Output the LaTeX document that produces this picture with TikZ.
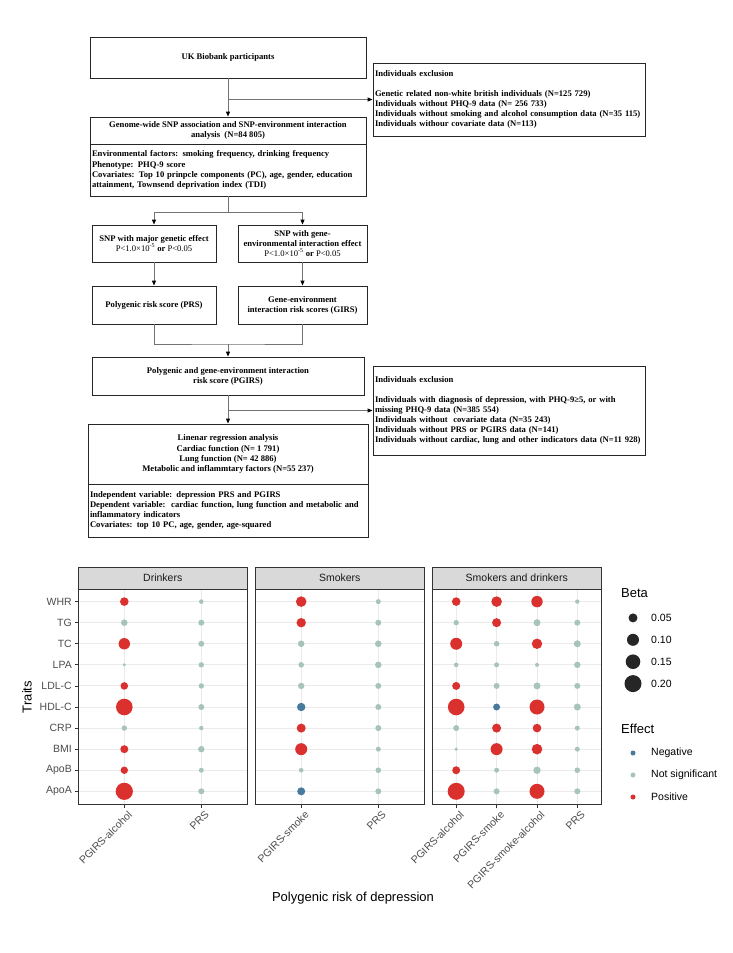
\documentclass[tikz,border=0pt]{standalone}
\usepackage{fontspec}
\setmainfont{Liberation Serif}
\setsansfont{Liberation Sans}
\usetikzlibrary{positioning,arrows.meta}
\definecolor{effpos}{RGB}{218,48,46}
\definecolor{effns}{RGB}{166,196,184}
\definecolor{effneg}{RGB}{72,122,158}
\definecolor{gridc}{RGB}{235,235,235}
\definecolor{stripc}{RGB}{217,217,217}
\definecolor{axc}{RGB}{77,77,77}
\tikzset{
  fbox/.style={draw=black!85,line width=0.9pt,fill=white,inner sep=2pt,align=center,font=\fontsize{8.6}{10.1}\selectfont\bfseries},
  lbox/.style={fbox,align=left,inner xsep=2pt},
  conn/.style={draw=black!55,line width=0.9pt},
  arr/.style={conn,-{Triangle[length=5pt,width=4pt,color=black]}},
  panel/.style={draw=black!80,line width=0.9pt},
  grid/.style={draw=gridc,line width=1pt},
  tickc/.style={draw=black!80,line width=0.8pt},
  striplab/.style={font=\fontsize{10.5}{12}\selectfont\sffamily,text=black!90},
  ylab/.style={anchor=east,inner sep=0pt,font=\fontsize{10.5}{12}\selectfont\sffamily,text=axc},
  xlab/.style={anchor=north east,rotate=45,inner sep=0pt,font=\fontsize{10.5}{12}\selectfont\sffamily,text=axc},
  axtitle/.style={font=\fontsize{13}{15}\selectfont\sffamily},
  legtitle/.style={anchor=west,inner sep=0pt,font=\fontsize{13}{15}\selectfont\sffamily},
  leglab/.style={anchor=west,inner sep=0pt,font=\fontsize{10.5}{12}\selectfont\sffamily}
}
% one column of dots: row/radius/colour
\newcommand\dotcol[2]{\foreach \r/\rad/\col in {#2} {\fill[\col] (#1,{601.6+(\r-1)*21.08}) circle (\rad);}}
\newcommand\pval{{\mdseries P<1.0×10\textsuperscript{-5}} or {\mdseries P<0.05}}

\begin{document}
\begin{tikzpicture}[x=1pt,y=-1pt]
  \fill[white] (0,0) rectangle (733,953);
  \useasboundingbox (0,0) rectangle (733,953);

  % flow chart
  \node[fbox,minimum width=276pt,minimum height=41pt] (uk) at (228,57.5) {UK Biobank participants};
  \node[lbox,text width=268pt,minimum height=73pt] (ex1) at (509,99.5) {Individuals exclusion\\[10.1pt]
    Genetic related non-white british individuals (N=125 729)\\
    Individuals without PHQ-9 data (N= 256 733)\\
    Individuals without smoking and alcohol consumption data (N=35 115)\\
    Individuals withour covariate data (N=113)};
  \node[fbox,minimum width=276pt,minimum height=27pt] (gwhead) at (228,130.5) {Genome-wide SNP association and SNP-environment interaction\\ analysis~~(N=84 805)};
  \node[lbox,text width=272pt,minimum height=52pt] (gwbody) at (228,170) {Environmental factors: smoking frequency, drinking frequency\\
    Phenotype: PHQ-9 score\\
    Covariates: Top 10 prinpcle components (PC), age, gender, education\\
    attainment, Townsend deprivation index (TDI)};
  \node[fbox,minimum width=124pt,minimum height=37pt] (snp1) at (154,243.5) {SNP with major genetic effect\\ \pval};
  \node[fbox,minimum width=129pt,minimum height=37pt] (snp2) at (302.5,243.5) {SNP with gene-\\ environmental interaction effect\\ \pval};
  \node[fbox,minimum width=124pt,minimum height=38pt] (prs) at (154,305) {Polygenic risk score (PRS)};
  \node[fbox,minimum width=129pt,minimum height=38pt] (girs) at (302.5,305) {Gene-environment\\ interaction risk scores (GIRS)};
  \node[fbox,minimum width=272pt,minimum height=38pt] (pgirs) at (228,376) {Polygenic and gene-environment interaction\\ risk score (PGIRS)};
  \node[lbox,text width=268pt,minimum height=89pt] (ex2) at (509,410.5) {Individuals exclusion\\[10.1pt]
    Individuals with diagnosis of depression, with PHQ-9≥5, or with\\
    missing PHQ-9 data (N=385 554)\\
    Individuals without~~covariate data (N=35 243)\\
    Individuals without PRS or PGIRS data (N=141)\\
    Individuals without cardiac, lung and other indicators data (N=11 928)};
  \node[fbox,minimum width=280pt,minimum height=60pt] (linhead) at (228,454) {Linenar regression analysis\\
    Cardiac function (N= 1 791)\\
    Lung function (N= 42 886)\\
    Metabolic and inflammtary factors (N=55 237)};
  \node[lbox,text width=276pt,minimum height=53pt] (linbody) at (228,510.5) {Independent variable: depression PRS and PGIRS\\
    Dependent variable:~~cardiac function, lung function and metabolic and\\
    inflammatory indicators\\
    Covariates: top 10 PC, age, gender, age-squared};

  \coordinate (split) at (228,212);
  \coordinate (merge) at (228,344);
  \draw[arr] (uk) -- (gwhead);
  \draw[arr] (uk.south |- ex1.west) -- (ex1.west);
  \draw[arr] (gwbody.south) -- (split) -| (snp1.north);
  \draw[arr] (split) -| (snp2.north);
  \draw[arr] (snp1) -- (prs); \draw[arr] (snp2) -- (girs);
  \draw[conn] (prs.south) |- (merge) -| (girs.south);
  \draw[arr] (merge) -- (pgirs.north);
  \draw[arr] (pgirs) -- (linhead);
  \draw[arr] (pgirs.south |- ex2.west) -- (ex2.west);

  % dot plot
  \foreach \pl/\pr/\nm/\lab in {78/247.5/drink/Drinkers,255/424.5/smoke/Smokers,432/601.5/both/Smokers and drinkers} {
    \fill[stripc] (\pl,567) rectangle (\pr,589);
    \draw[panel] (\pl,567) rectangle (\pr,589);
    \node[striplab] (strip-\nm) at ({(\pl+\pr)/2},578) {\lab};
    \foreach \r in {1,...,10} \draw[grid] (\pl,{601.6+(\r-1)*21.08}) -- (\pr,{601.6+(\r-1)*21.08});
  }
  \foreach \cx in {124.3,201.3,301.2,378.3,456.2,496.6,537,577.3} \draw[grid] (\cx,589) -- (\cx,804);

  \dotcol{124.3}{1/4.3/effpos,2/3.3/effns,3/5.7/effpos,4/1.7/effns,5/3.8/effpos,6/8.3/effpos,7/2.7/effns,8/4/effpos,9/3.7/effpos,10/8.6/effpos}
  \dotcol{201.3}{1/2.3/effns,2/3/effns,3/3/effns,4/2.7/effns,5/2.7/effns,6/3/effns,7/2.2/effns,8/3.2/effns,9/2.5/effns,10/3/effns}
  \dotcol{301.2}{1/5.3/effpos,2/4.7/effpos,3/3.3/effns,4/2.8/effns,5/3.2/effns,6/4.2/effneg,7/4.5/effpos,8/6/effpos,9/2.3/effns,10/4/effneg}
  \dotcol{378.3}{1/2.5/effns,2/3/effns,3/3.3/effns,4/3.3/effns,5/3/effns,6/3/effns,7/3/effns,8/2.5/effns,9/2.8/effns,10/3/effns}
  \dotcol{456.2}{1/4.3/effpos,2/2.7/effns,3/6/effpos,4/2.3/effns,5/4/effpos,6/8.3/effpos,7/3/effns,8/1.8/effns,9/4/effpos,10/8.5/effpos}
  \dotcol{496.6}{1/5.3/effpos,2/4.5/effpos,3/2.8/effns,4/2.5/effns,5/3/effns,6/3.5/effneg,7/4.5/effpos,8/6/effpos,9/2.5/effns,10/3/effns}
  \dotcol{537}{1/5.7/effpos,2/3.5/effns,3/5.2/effpos,4/2/effns,5/3.5/effns,6/7.5/effpos,7/4.3/effpos,8/5.3/effpos,9/3.7/effns,10/7.5/effpos}
  \dotcol{577.3}{1/2.2/effns,2/3/effns,3/3.5/effns,4/3.2/effns,5/3/effns,6/3.5/effns,7/2.5/effns,8/2.5/effns,9/2.8/effns,10/3/effns}

  \foreach \pl/\pr in {78/247.5,255/424.5,432/601.5} \draw[panel] (\pl,589) rectangle (\pr,804);

  \foreach \lab [count=\r] in {WHR,TG,TC,LPA,LDL-C,HDL-C,CRP,BMI,ApoB,ApoA} {
    \draw[tickc] (74.5,{601.6+(\r-1)*21.08}) -- (78,{601.6+(\r-1)*21.08});
    \node[ylab] (y-\r) at (72,{601.6+(\r-1)*21.08}) {\lab};
  }
  \foreach \cx/\lab [count=\i] in {124.3/PGIRS-alcohol,201.3/PRS,301.2/PGIRS-smoke,378.3/PRS,456.2/PGIRS-alcohol,496.6/PGIRS-smoke,537/PGIRS-smoke-alcohol,577.3/PRS} {
    \draw[tickc] (\cx,804) -- (\cx,807.5);
    \node[xlab] (x-\i) at (\cx+3,810) {\lab};
  }
  \node[axtitle,rotate=90] (ytitle) at (27,697) {Traits};
  \node[axtitle] (xtitle) at (353,898) {Polygenic risk of depression};

  % legends
  \node[legtitle] (leg-beta) at (621,593) {Beta};
  \foreach \v/\rad [count=\i] in {0.05/4.5,0.10/6,0.15/7.3,0.20/8.5} {
    \fill[black!85] (633,{596+\i*21.9}) circle (\rad);
    \node[leglab] (beta-\i) at (651,{596+\i*21.9}) {\v};
  }
  \node[legtitle] (leg-eff) at (621,729) {Effect};
  \foreach \col/\lab [count=\i] in {effneg/Negative,effns/Not significant,effpos/Positive} {
    \fill[\col] (633,{731+\i*22}) circle (2.5);
    \node[leglab] (eff-\i) at (651,{731+\i*22}) {\lab};
  }
\end{tikzpicture}
\end{document}
